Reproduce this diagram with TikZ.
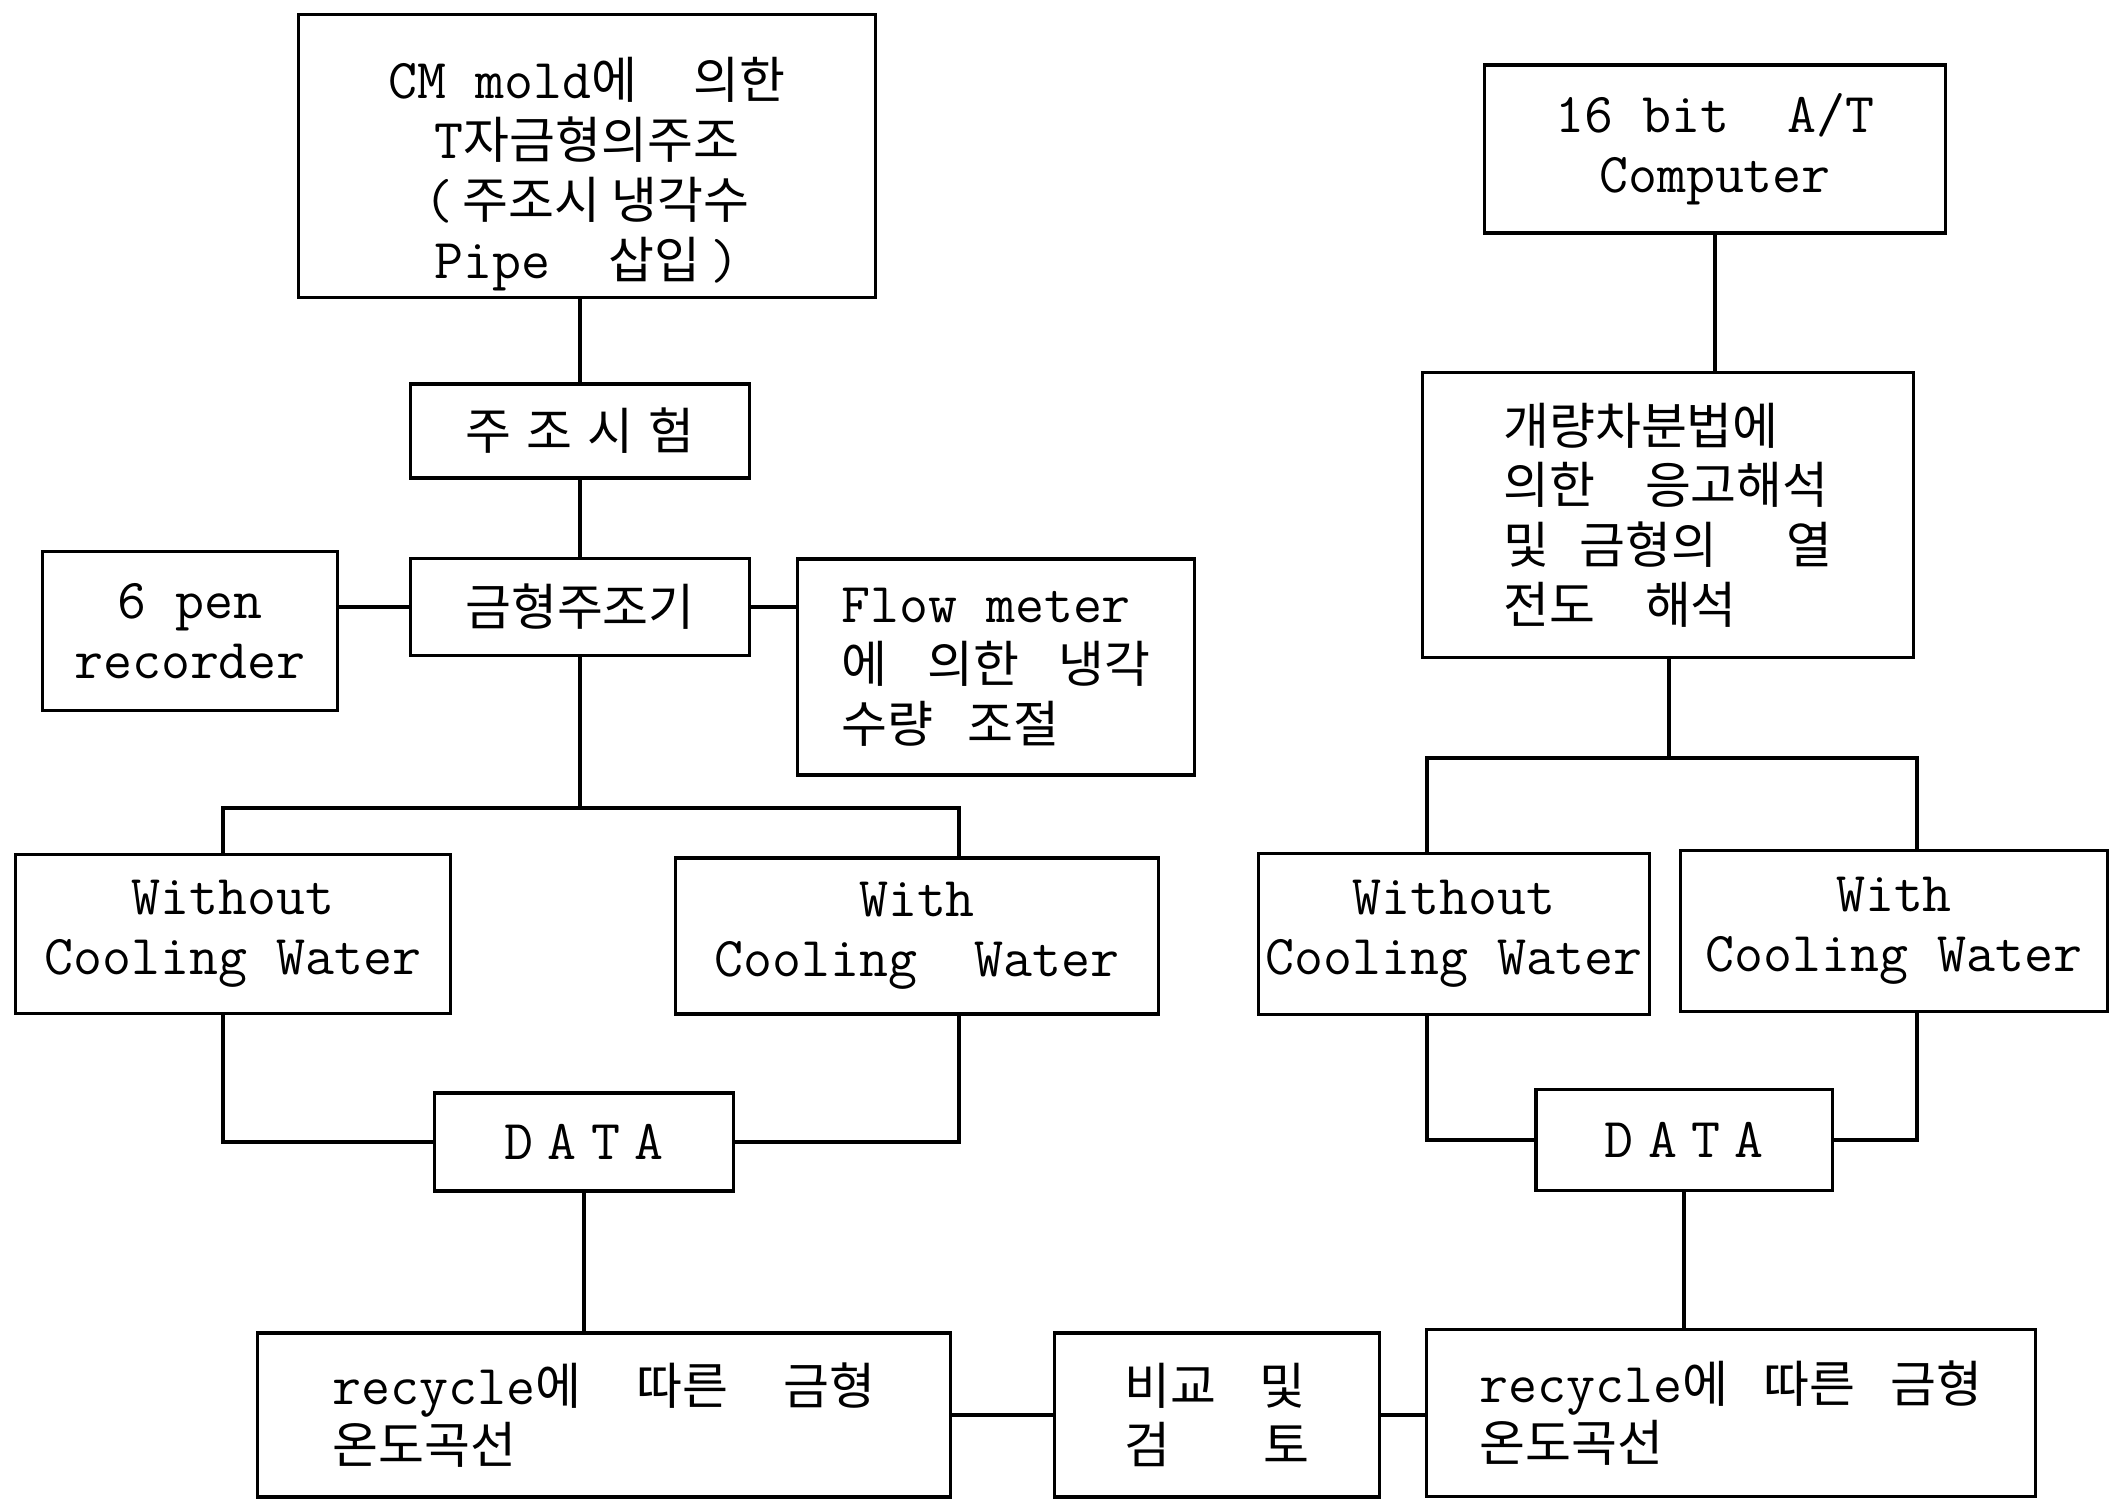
\documentclass[tikz,border=0pt]{standalone}
\usepackage{fontspec}
\newfontfamily\korfont{Noto Sans CJK KR}
\newcommand{\kr}[1]{{\korfont\fontsize{14.2}{17}\selectfont #1}}
\tikzset{%
	block/.style    = {draw, rectangle, line width=0.9pt, inner sep=2pt, align=center, font=\ttfamily\fontsize{16}{17}\selectfont},
	leftblock/.style = {block, align=left}, % text set flush left
	waypoint/.style = {coordinate}, % fork point
	link/.style     = {line width=0.9pt},
}

\begin{document}
\begin{tikzpicture}[x=0.01cm, y=-0.01cm]
	\path[fill=white, use as bounding box] (0,0) rectangle (2111,1501);

	% left column
	\node[block, minimum width=5.77cm, minimum height=2.80cm] (cm) at (587,156) {\rule{0pt}{22pt}CM mold\kr{에}\quad\kr{의한}\\T\kr{자금형의주조}\\(\,\kr{주조시 냉각수}\\Pipe\ \ \kr{삽입}\,)};
	\node[block, minimum width=3.38cm, minimum height=0.94cm] (test) at (580,431) {\kr{주\hspace{.3em}조\hspace{.3em}시\hspace{.3em}험}};
	\node[block, minimum width=3.39cm, minimum height=0.97cm] (caster) at (580,607) {\kr{금형주조기}};
	\node[block, minimum width=2.95cm, minimum height=1.59cm] (pen) at (190,631) {6 pen\\recorder};
	\node[leftblock, minimum width=3.96cm, minimum height=2.16cm] (flow) at (996,667) {Flow meter\\\kr{에\hspace{.8em}의한\hspace{.8em}냉각}\\\kr{수량\hspace{.7em}조절}};
	\node[block, minimum width=4.35cm, minimum height=1.59cm] (wol) at (233,934) {Without\\Cooling Water};
	\node[block, minimum width=4.82cm, minimum height=1.56cm] (wcl) at (917,936) {With\\Cooling\ \ Water};
	\node[block, minimum width=2.99cm, minimum height=0.98cm] (datal) at (584,1142) {D\hspace{4pt}A\hspace{4pt}T\hspace{4pt}A};
	\node[leftblock, minimum width=6.92cm, minimum height=1.64cm] (recyl) at (604,1415) {recycle\kr{에\hspace{1.1em}따른\hspace{1.1em}금형}\\\kr{온도곡선}};
	\node[leftblock, minimum width=3.25cm, minimum height=1.64cm] (cmp) at (1217,1415) {\kr{비교\hspace{.85em}및}\\\kr{검\hspace{1.85em}토}};

	% right column
	\node[block, minimum width=4.60cm, minimum height=1.68cm] (comp) at (1715,149) {16 bit\ \ A/T\\Computer};
	\node[leftblock, minimum width=4.91cm, minimum height=2.85cm] (fdm) at (1668,515) {\kr{개량차분법에}\\\kr{의한\hspace{1em}응고해석}\\\kr{및\hspace{.6em}금형의\hspace{1.4em}열}\\\kr{전도\hspace{1em}해석}};
	\node[block, minimum width=3.90cm, minimum height=1.61cm] (wor) at (1454,934) {Without\\Cooling Water};
	\node[block, minimum width=4.27cm, minimum height=1.61cm] (wcr) at (1894,931) {With\\Cooling Water};
	\node[block, minimum width=2.96cm, minimum height=1.01cm] (datar) at (1684,1140) {D\hspace{4pt}A\hspace{4pt}T\hspace{4pt}A};
	\node[leftblock, minimum width=6.09cm, minimum height=1.67cm] (recyr) at (1731,1413) {recycle\kr{에\hspace{.7em}따른\hspace{.7em}금형}\\\kr{온도곡선}};

	\node[waypoint] (forkl) at (580,808) {};
	\node[waypoint] (forkla) at (223,808) {};
	\node[waypoint] (forklb) at (959,808) {};
	\node[waypoint] (forkr) at (1669,758) {};
	\node[waypoint] (forkra) at (1427,758) {};
	\node[waypoint] (forkrb) at (1917,758) {};

	\draw[link] (test.north) -- (test.north |- cm.south);
	\draw[link] (test) -- (caster);
	\draw[link] (caster.west) -- (caster.west -| pen.east);
	\draw[link] (caster.east) -- (caster.east -| flow.west);
	\draw[link] (caster.south) -- (caster.south |- forkl);
	\draw[link] (forkla |- wol.north) -- (forkla) -- (forklb) -- (forklb |- wcl.north);
	\draw[link] (forkla |- wol.south) |- (datal);
	\draw[link] (forklb |- wcl.south) |- (datal);
	\draw[link] (datal.south) -- (datal.south |- recyl.north);
	\draw[link] (recyl.east) -- (recyl.east -| cmp.west);
	\draw[link] (cmp.east) -- (cmp.east -| recyr.west);

	\draw[link] (comp.south) -- (comp.south |- fdm.north);
	\draw[link] (fdm.south -| forkr) -- (forkr);
	\draw[link] (forkra |- wor.north) -- (forkra) -- (forkrb) -- (forkrb |- wcr.north);
	\draw[link] (forkra |- wor.south) |- (datar);
	\draw[link] (forkrb |- wcr.south) |- (datar);
	\draw[link] (datar.south) -- (datar.south |- recyr.north);
\end{tikzpicture}
\end{document}
